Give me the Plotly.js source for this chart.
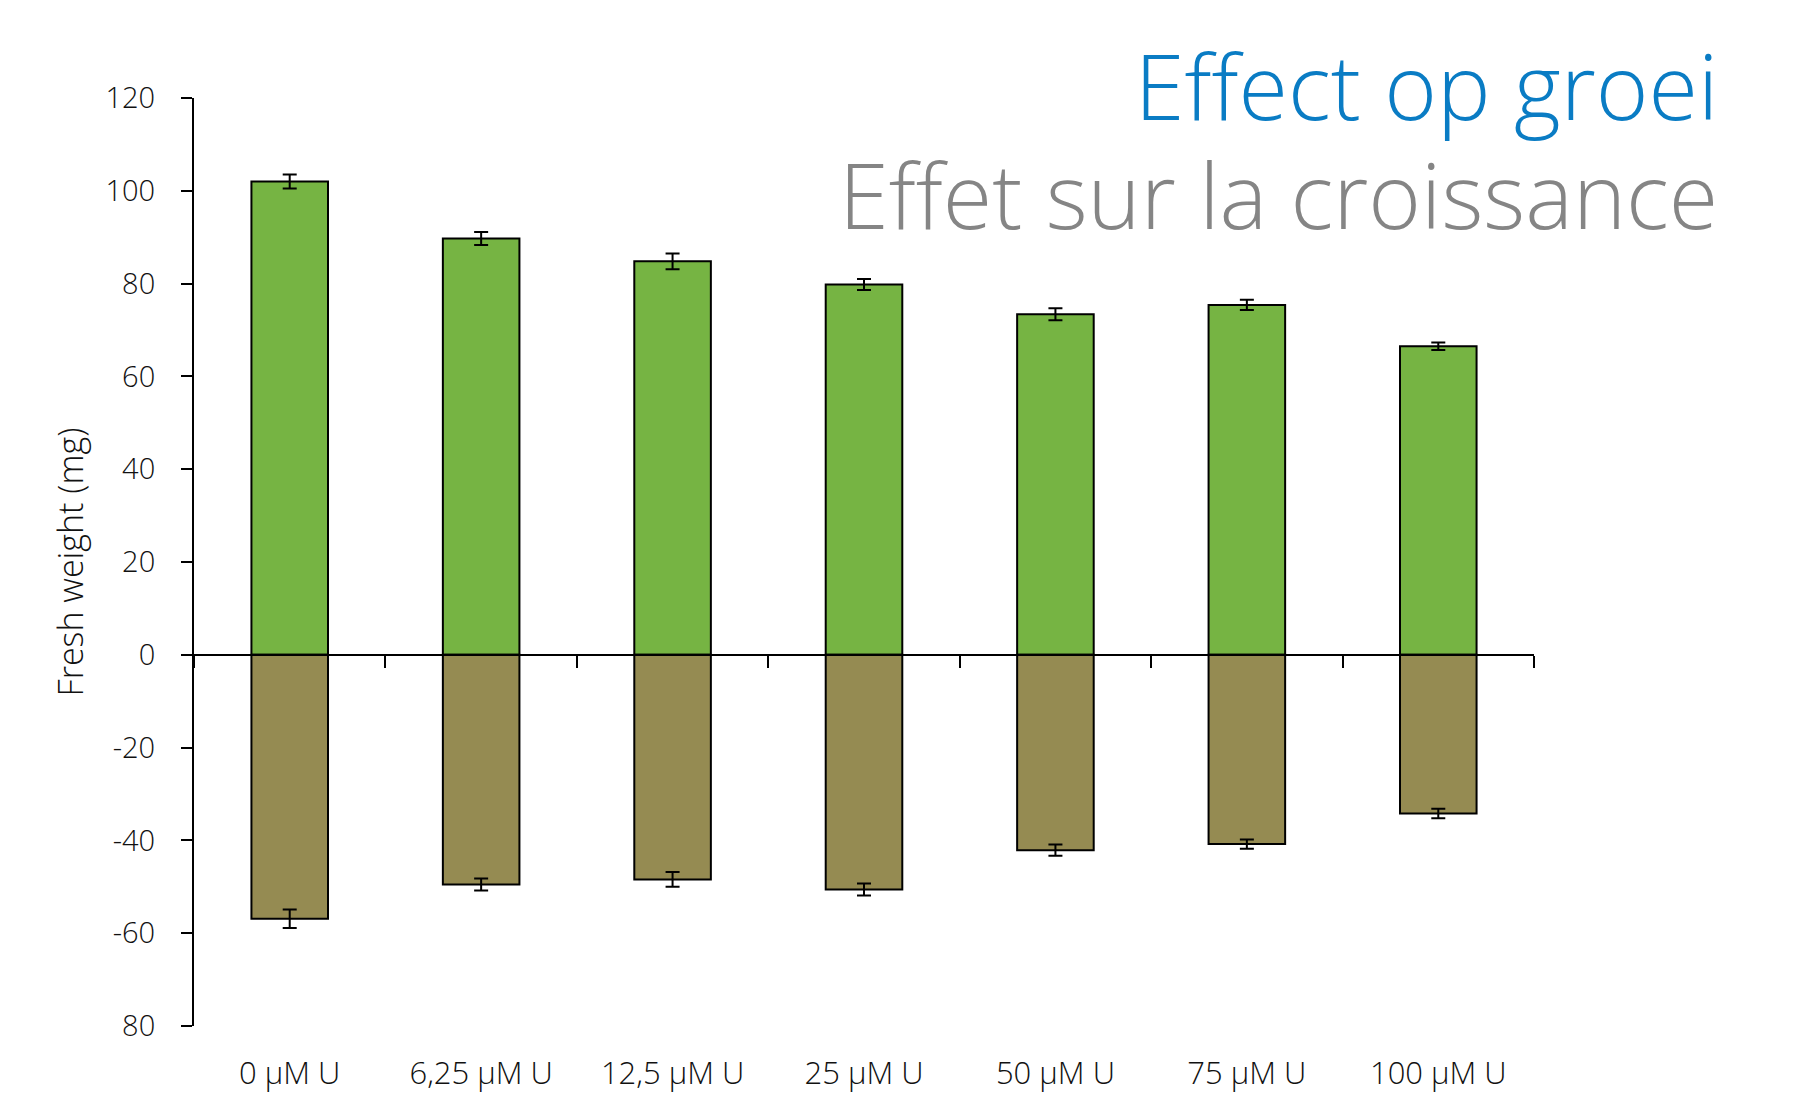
<!DOCTYPE html>
<html>
<head>
<meta charset="utf-8">
<script src="https://cdn.plot.ly/plotly-3.0.1.min.js"></script>
<style>html,body{margin:0;padding:0;background:#fff;}#chart{width:1793px;height:1098px;}</style>
</head>
<body>
<div id="chart"></div>
<script>
// ---- data ----
const categories = ["0 μM U", "6,25 μM U", "12,5 μM U", "25 μM U", "50 μM U", "75 μM U", "100 μM U"];
const growthValues = [102.0, 89.7, 84.8, 79.8, 73.4, 75.4, 66.5];
const growthErrors = [1.5, 1.4, 1.7, 1.2, 1.3, 1.1, 0.8];
const lossValues = [-56.9, -49.5, -48.4, -50.6, -42.1, -40.8, -34.2];
const lossErrors = [2.0, 1.3, 1.6, 1.3, 1.2, 1.0, 1.0];
const yTickValues = [-80, -60, -40, -20, 0, 20, 40, 60, 80, 100, 120];
const yTickLabels = ["80", "-60", "-40", "-20", "0", "20", "40", "60", "80", "100", "120"];
const titleNL = "Effect op groei";
const titleFR = "Effet sur la croissance";
const yTitle = "Fresh weight (mg)";

const FONT = "Open Sans, Noto Sans, sans-serif";
const txt = "#111";

const traces = [
  {
    type: "bar", x: categories, y: growthValues, xaxis: "x", yaxis: "y",
    width: 0.4,
    marker: {color: "#76b443", line: {color: "#000", width: 2}},
    error_y: {type: "data", array: growthErrors, visible: true, color: "#000", thickness: 2, width: 7},
    hoverinfo: "x+y"
  },
  {
    type: "bar", x: categories, y: lossValues, xaxis: "x2", yaxis: "y",
    width: 0.4,
    marker: {color: "#958b52", line: {color: "#000", width: 2}},
    error_y: {type: "data", array: lossErrors, visible: true, color: "#000", thickness: 2, width: 7},
    hoverinfo: "x+y"
  }
];

const layout = {
  width: 1793, height: 1098,
  margin: {l: 194, r: 259, t: 98, b: 72, pad: 0},
  paper_bgcolor: "#fff", plot_bgcolor: "rgba(0,0,0,0)",
  showlegend: false,
  font: {family: FONT, color: txt, size: 28, weight: 300},
  xaxis: {
    type: "category", range: [-0.5, 6.5],
    anchor: "free", position: 0.4,
    showline: true, linecolor: "#000", linewidth: 2,
    ticks: "outside", tickson: "boundaries", ticklen: 12, tickwidth: 2, tickcolor: "#000",
    showticklabels: false, showgrid: false, zeroline: false, fixedrange: true
  },
  xaxis2: {
    type: "category", range: [-0.5, 6.5],
    overlaying: "x", anchor: "y", side: "bottom",
    showline: false, showgrid: false, zeroline: false,
    ticks: "outside", ticklen: 20, tickcolor: "rgba(0,0,0,0)",
    tickfont: {family: FONT, size: 31, color: txt, weight: 300},
    fixedrange: true
  },
  yaxis: {
    range: [-80, 120],
    tickvals: yTickValues, ticktext: yTickLabels,
    showline: true, linecolor: "#000", linewidth: 2,
    ticks: "outside", ticklen: 11, tickwidth: 2, tickcolor: "#000",
    ticklabelstandoff: 20,
    tickfont: {family: FONT, size: 29, color: txt, weight: 300},
    showgrid: false, zeroline: false, fixedrange: true,
    title: {text: yTitle, font: {family: FONT, size: 34, color: txt, weight: 300}, standoff: 12}
  },
  annotations: [
    {text: '<span style="color:#0a7cc4;font-size:90px">' + titleNL + '</span><br><span style="color:#858585;font-size:90px">' + titleFR + '</span>',
     xref: "paper", yref: "paper", x: 1.1385, y: 0.955, xanchor: "right", yanchor: "middle", align: "right",
     showarrow: false, font: {family: FONT, size: 84, color: "#858585", weight: 300}}
  ]
};

Plotly.newPlot("chart", traces, layout, {displayModeBar: false, staticPlot: true});
</script>
</body>
</html>
